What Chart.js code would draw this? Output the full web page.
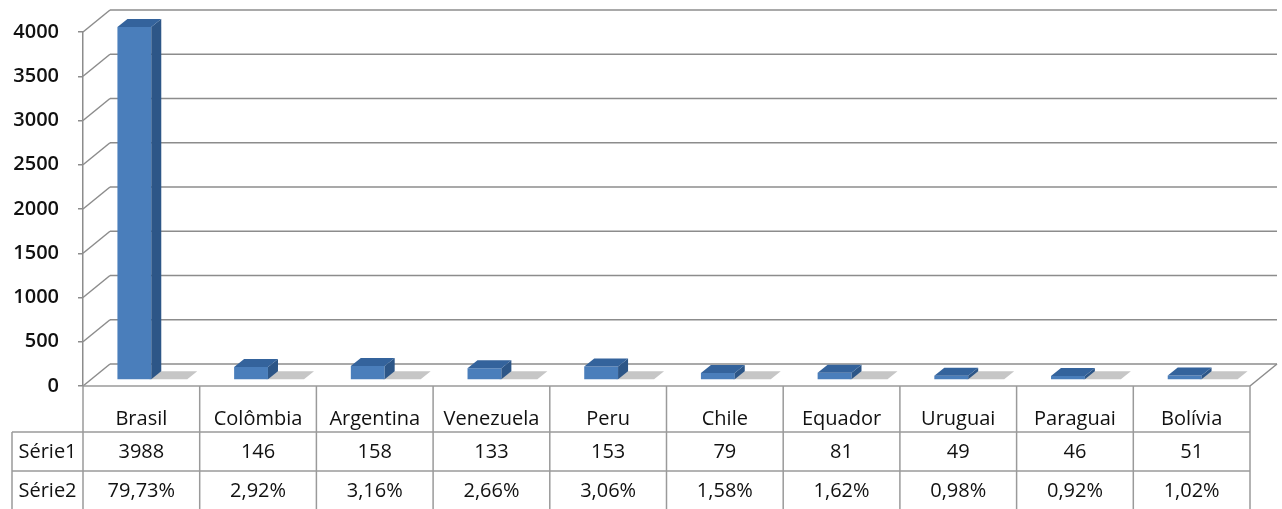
<!DOCTYPE html>
<html><head><meta charset="utf-8">
<script src="https://cdn.jsdelivr.net/npm/chart.js@4.4.0/dist/chart.umd.min.js"></script>
<style>html,body{margin:0;padding:0;background:#fff;}#wrap{width:1282px;height:509px;position:relative;}</style>
</head><body><div id="wrap"><canvas id="c"></canvas></div>
<script>
// ---- data ----
const categories = ['Brasil','Colômbia','Argentina','Venezuela','Peru','Chile','Equador','Uruguai','Paraguai','Bolívia'];
const serie1 = [3988,146,158,133,153,79,81,49,46,51];
const serie2 = [79.73,2.92,3.16,2.66,3.06,1.58,1.62,0.98,0.92,1.02];
const seriesLabels = ['Série1','Série2'];
const yMin = 0, yMax = 4000, yStep = 500;

// ---- style / geometry ----
const FONT = "'Open Sans', 'DejaVu Sans', sans-serif";
const WALL_DX = 27, WALL_DY = -22;     // depth of floor / wall
const BAR_OX = -7, BAR_OY = -6;        // bar plane offset
const BAR_DX = 10, BAR_DY = -8;        // bar depth
const SHADOW_LEN = 36;
const GRID = '#8c8c8c', TABLE = '#9a9a9a';
const HEADER_H = 46, ROW_H = 39, LABEL_LEFT = 12;

const fmtPct = v => v.toFixed(2).replace('.', ',') + '%';

function poly(ctx, pts, fill) {
  ctx.beginPath(); ctx.moveTo(pts[0][0], pts[0][1]);
  for (let i = 1; i < pts.length; i++) ctx.lineTo(pts[i][0], pts[i][1]);
  ctx.closePath(); ctx.fillStyle = fill; ctx.fill();
}
function line(ctx, x1, y1, x2, y2) { ctx.beginPath(); ctx.moveTo(x1, y1); ctx.lineTo(x2, y2); ctx.stroke(); }

const threeD = {
  id: 'threeD',
  beforeDatasetsDraw(chart) {
    const {ctx, chartArea: a, scales: {x, y}} = chart;
    ctx.save();
    ctx.strokeStyle = GRID; ctx.lineWidth = 1.5;
    for (let v = yMin; v <= yMax; v += yStep) {
      const py = y.getPixelForValue(v);
      line(ctx, a.left, py, a.left + WALL_DX, py + WALL_DY);
      line(ctx, a.left + WALL_DX, py + WALL_DY, a.right + WALL_DX, py + WALL_DY);
    }
    line(ctx, a.right, a.bottom, a.right + WALL_DX, a.bottom + WALL_DY);
    // shadows
    const meta = chart.getDatasetMeta(0);
    meta.data.forEach(b => {
      const r = b.x + b.width / 2 + BAR_OX, bt = b.base + BAR_OY;
      poly(ctx, [[r - 2, bt], [r + SHADOW_LEN, bt], [r + SHADOW_LEN + BAR_DX, bt + BAR_DY], [r + BAR_DX, bt + BAR_DY]], '#c6c6c6');
    });
    ctx.restore();
    ctx.save();
    ctx.translate(BAR_OX, BAR_OY);
  },
  afterDatasetsDraw(chart) {
    const {ctx, chartArea: a, scales: {x, y}} = chart;
    ctx.restore();
    ctx.save();
    const meta = chart.getDatasetMeta(0);
    meta.data.forEach(b => {
      const l = b.x - b.width / 2 + BAR_OX, r = b.x + b.width / 2 + BAR_OX;
      const t = b.y + BAR_OY, bt = b.base + BAR_OY;
      poly(ctx, [[r, t], [r + BAR_DX, t + BAR_DY], [r + BAR_DX, bt + BAR_DY], [r, bt]], '#2d5687');
      poly(ctx, [[l, t], [l + BAR_DX, t + BAR_DY], [r + BAR_DX, t + BAR_DY], [r, t]], '#34639c');
    });
    // data table
    const n = categories.length;
    const cw = (a.right - a.left) / n;
    const r1 = a.bottom + HEADER_H, r2 = r1 + ROW_H, r3 = r2 + ROW_H;
    const H = chart.height;
    ctx.strokeStyle = TABLE; ctx.lineWidth = 1.5;
    line(ctx, a.left, a.bottom, a.right, a.bottom);
    for (let i = 0; i <= n; i++) {
      const xb = a.left + i * cw;
      line(ctx, xb, a.bottom, xb, H);
    }
    line(ctx, LABEL_LEFT, r1, a.right, r1);
    line(ctx, LABEL_LEFT, r2, a.right, r2);
    line(ctx, LABEL_LEFT, r1, LABEL_LEFT, H);
    ctx.fillStyle = '#111';
    ctx.font = `20px ${FONT}`;
    ctx.textAlign = 'center'; ctx.textBaseline = 'middle';
    const lx = (LABEL_LEFT + a.left) / 2;
    ctx.fillText(seriesLabels[0], lx, (r1 + r2) / 2 + 1);
    ctx.fillText(seriesLabels[1], lx, (r2 + r3) / 2 + 1);
    for (let i = 0; i < n; i++) {
      const cx = x.getPixelForValue(i);
      ctx.fillText(String(serie1[i]), cx, (r1 + r2) / 2 + 1);
      ctx.fillText(fmtPct(serie2[i]), cx, (r2 + r3) / 2 + 1);
    }
    ctx.restore();
  }
};

new Chart(document.getElementById('c'), {
  type: 'bar',
  data: {
    labels: categories,
    datasets: [{
      label: seriesLabels[0],
      data: serie1,
      backgroundColor: '#4a7ebb',
      borderWidth: 0,
      barPercentage: 0.29,
      categoryPercentage: 1.0,
      clip: false
    }]
  },
  options: {
    responsive: true, maintainAspectRatio: false, animation: false,
    layout: {padding: {top: 32, right: 32, left: 0, bottom: 0}},
    plugins: {legend: {display: false}, tooltip: {enabled: false}},
    scales: {
      x: {
        afterFit(s) { s.height = 123; },
        grid: {display: false, drawTicks: false},
        border: {display: false},
        ticks: {color: '#111', font: {family: FONT, size: 20}, padding: 21, maxRotation: 0, autoSkip: false}
      },
      y: {
        min: yMin, max: yMax,
        afterFit(s) { s.width = 83; },
        grid: {drawOnChartArea: false, drawTicks: true, tickLength: 5, color: GRID, lineWidth: 1.5},
        border: {display: true, color: GRID, width: 1.5},
        ticks: {stepSize: yStep, color: '#111', padding: 19, font: {family: FONT, size: 20, weight: '600'},
                callback: v => String(v)}
      }
    }
  },
  plugins: [threeD]
});
</script></body></html>
